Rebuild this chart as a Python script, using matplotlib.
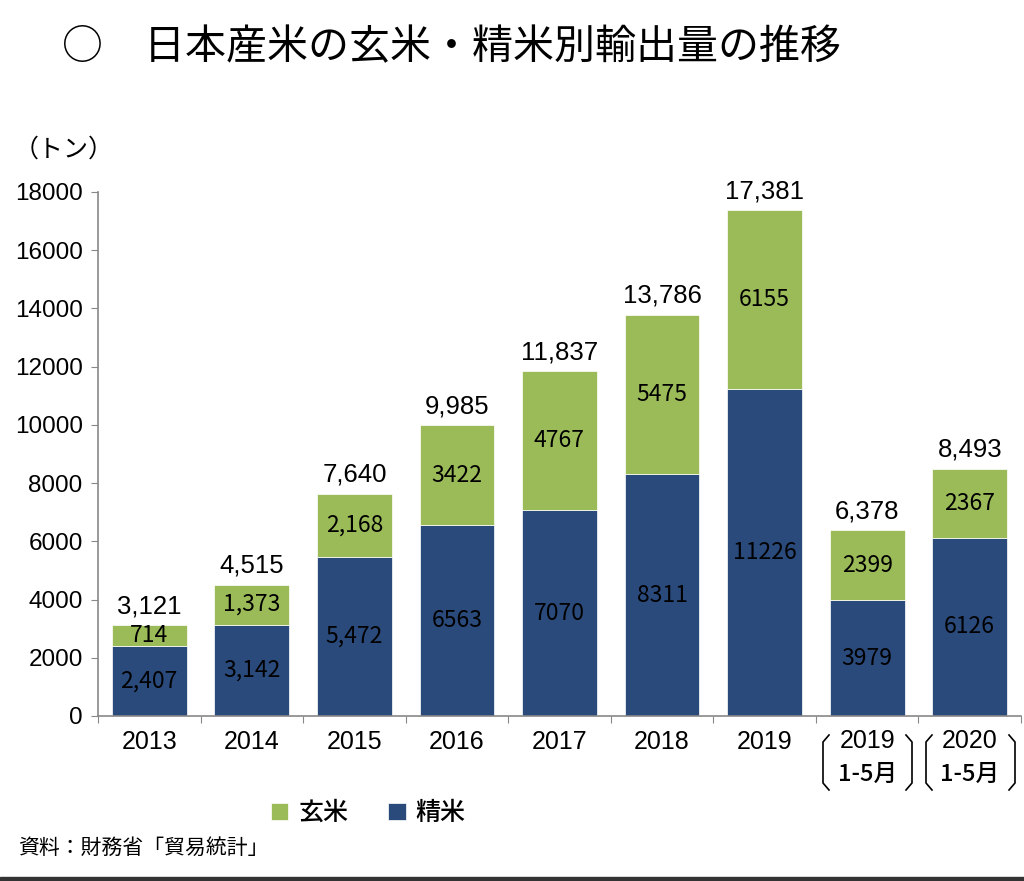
import matplotlib.pyplot as plt
import numpy as np
from matplotlib.lines import Line2D
from matplotlib.patches import Rectangle

plt.rcParams['font.family'] = ['Noto Sans CJK JP', 'DejaVu Sans']

categories = ['2013', '2014', '2015', '2016', '2017', '2018', '2019', '2019\n1-5月', '2020\n1-5月']
seimai = [2407, 3142, 5472, 6563, 7070, 8311, 11226, 3979, 6126]     # 精米
genmai = [714, 1373, 2168, 3422, 4767, 5475, 6155, 2399, 2367]       # 玄米
totals = [3121, 4515, 7640, 9985, 11837, 13786, 17381, 6378, 8493]
seimai_labels = ['2,407', '3,142', '5,472', '6563', '7070', '8311', '11226', '3979', '6126']
genmai_labels = ['714', '1,373', '2,168', '3422', '4767', '5475', '6155', '2399', '2367']

green = '#9BBB59'
blue = '#2A4A7B'

fig = plt.figure(figsize=(10.24, 8.81), dpi=100)
ax = fig.add_axes([98 / 1024, 1 - 716 / 881, 923 / 1024, 524 / 881])

x = np.arange(len(categories))
width = 0.73
ax.bar(x, seimai, width, color=blue, edgecolor='white', linewidth=0.5, label='精米')
ax.bar(x, genmai, width, bottom=seimai, color=green, edgecolor='white', linewidth=0.5, label='玄米')

for i in range(len(categories)):
    ax.text(x[i], seimai[i] / 2, seimai_labels[i], ha='center', va='center',
            fontsize=16.5, color='black')
    ax.text(x[i], seimai[i] + genmai[i] / 2, genmai_labels[i], ha='center', va='center',
            fontsize=16.5, color='black')
    ax.annotate(f'{totals[i]:,}', (x[i], totals[i]), xytext=(0, 5), textcoords='offset points',
                ha='center', va='bottom', fontsize=18.5, family=['Liberation Sans'])

ax.set_xlim(-0.5, 8.5)
ax.set_ylim(0, 18000)
ax.set_yticks(np.arange(0, 18001, 2000))
ax.set_yticklabels([str(v) for v in range(0, 18001, 2000)], family=['Liberation Sans'], fontsize=17.5)
ax.tick_params(axis='y', length=5, color='#888888', pad=6)

# category boundaries as x ticks, labels drawn separately
ax.set_xticks(np.arange(-0.5, 9, 1))
ax.set_xticklabels([])
ax.tick_params(axis='x', length=5, color='#888888')
for i in range(7):
    ax.text(x[i], -900, categories[i], ha='center', va='center', fontsize=18,
            family=['Liberation Sans'])
for i in range(7, 9):
    yr, per = categories[i].split('\n')
    ax.text(x[i], -850, yr, ha='center', va='center', fontsize=18, family=['Liberation Sans'])
    ax.text(x[i], -2000, per, ha='center', va='center', fontsize=17, fontweight='medium')

for s in ['top', 'right']:
    ax.spines[s].set_visible(False)
for s in ['left', 'bottom']:
    ax.spines[s].set_color('#888888')
    ax.spines[s].set_linewidth(1.2)

# brackets around the partial-year labels
def bracket(x0, left):
    d = 6 if left else -6
    xs = [x0 + d, x0, x0, x0 + d]
    ys = [735, 742, 783, 790]
    fig.add_artist(Line2D([v / 1024 for v in xs], [1 - v / 881 for v in ys],
                          color='black', lw=1.2))

for bx, left in [(823, True), (912, False), (926, True), (1015, False)]:
    bracket(bx, left)

fig.text(62 / 1024, 1 - 48 / 881, '○　日本産米の玄米・精米別輸出量の推移', fontsize=29.5,
         va='center', ha='left')
fig.text(14 / 1024, 1 - 150 / 881, '（トン）', fontsize=18, va='center', ha='left')

handles, labels = ax.get_legend_handles_labels()
fig.legend(handles[::-1], labels[::-1], loc='center', bbox_to_anchor=(368 / 1024, 1 - 813 / 881),
           ncol=2, frameon=False, handlelength=0.7, handleheight=0.7,
           handletextpad=0.4, columnspacing=1.6, prop={'size': 18, 'weight': 'medium'})

fig.text(18 / 1024, 1 - 848 / 881, '資料：財務省「貿易統計」', fontsize=15, va='center', ha='left')

fig.add_artist(Rectangle((0, 0), 1, 4 / 881, transform=fig.transFigure, color='#333333'))

fig.savefig('out.png', dpi=100)
